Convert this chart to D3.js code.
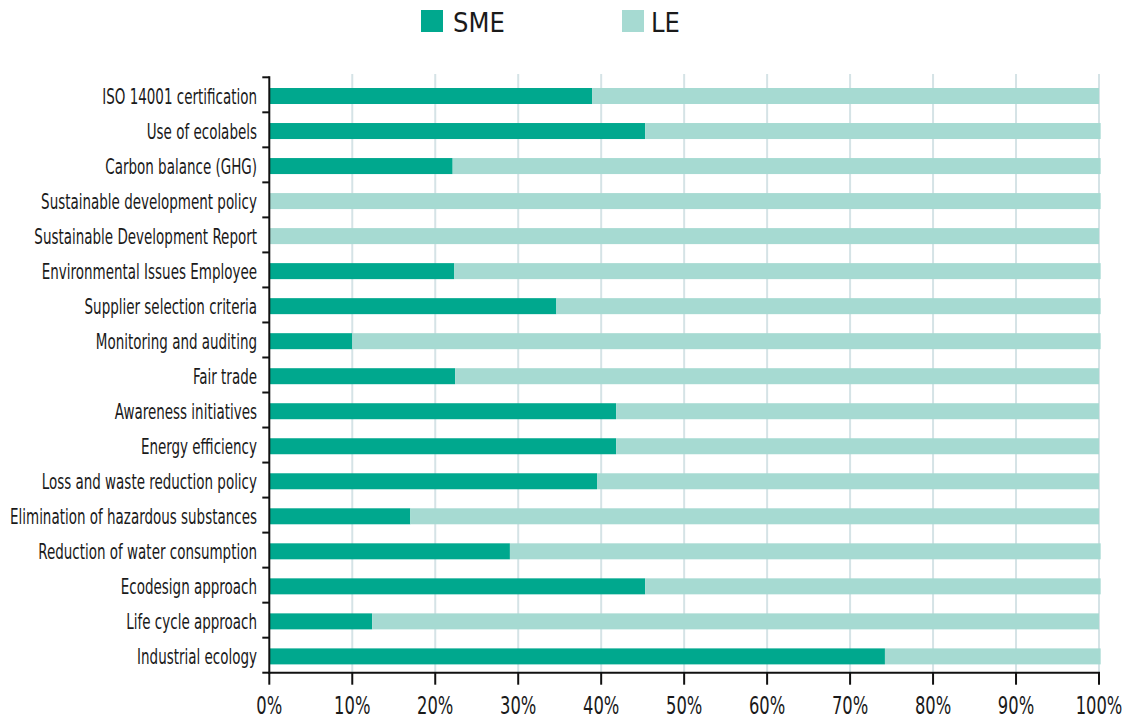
<!DOCTYPE html>
<html>
<head>
<meta charset="utf-8">
<script src="https://cdn.jsdelivr.net/npm/d3@7"></script>
<style>
  html, body { margin: 0; padding: 0; background: #fff; }
  svg { display: block; }
  text { font-family: "Liberation Sans Narrow", "DejaVu Sans Condensed", "Liberation Sans", sans-serif; fill: #1a1a1a; }
</style>
</head>
<body>
<svg id="chart" width="1127" height="719"></svg>
<script>
const categories = [
  "ISO 14001 certification",
  "Use of ecolabels",
  "Carbon balance (GHG)",
  "Sustainable development policy",
  "Sustainable Development Report",
  "Environmental Issues Employee",
  "Supplier selection criteria",
  "Monitoring and auditing",
  "Fair trade",
  "Awareness initiatives",
  "Energy efficiency",
  "Loss and waste reduction policy",
  "Elimination of hazardous substances",
  "Reduction of water consumption",
  "Ecodesign approach",
  "Life cycle approach",
  "Industrial ecology"
];
const smeValues = [38.9, 45.3, 22.1, 0, 0, 22.3, 34.6, 10.0, 22.4, 41.8, 41.8, 39.5, 17.0, 29.0, 45.3, 12.4, 74.2];
const leValues  = [61.1, 54.9, 78.1, 100.2, 100, 77.9, 65.6, 90.2, 77.6, 58.2, 58.2, 60.5, 83.0, 71.2, 54.9, 87.6, 26.0];
const seriesNames = ["SME", "LE"];
const xTicks = [0, 10, 20, 30, 40, 50, 60, 70, 80, 90, 100];
const colors = { SME: "#00a88e", LE: "#a6dad2" };

(function () {
const svg = d3.select("#chart");
const pLeft = 269.3, pRight = 1099, pTop = 77.3, pBottom = 672.7;

const x = d3.scaleLinear().domain([0, 100]).range([pLeft, pRight]);
const y = d3.scaleBand().domain(categories).range([pTop, pBottom]).paddingInner(0).paddingOuter(0);
const barH = 16;
const barOffset = (y.bandwidth() - barH) / 2 + 1.2;

const rows = categories.map((c, i) => ({ cat: c, SME: smeValues[i], LE: leValues[i] }));
const stack = d3.stack().keys(seriesNames)(rows);

// gridlines
svg.append("g").selectAll("line").data(xTicks.filter(d => d > 0)).join("line")
  .attr("x1", d => x(d)).attr("x2", d => x(d))
  .attr("y1", 74).attr("y2", pBottom)
  .attr("stroke", "#d5e3e6").attr("stroke-width", 2);

// bars
svg.append("g").selectAll("g").data(stack).join("g")
  .attr("fill", d => colors[d.key])
  .selectAll("rect").data(d => d).join("rect")
  .attr("x", d => x(d[0]))
  .attr("width", d => Math.max(0, x(d[1]) - x(d[0])))
  .attr("y", d => y(d.data.cat) + barOffset)
  .attr("height", barH);

// y axis
const yAxisG = svg.append("g");
yAxisG.append("line").attr("x1", pLeft).attr("x2", pLeft).attr("y1", pTop - 1).attr("y2", pBottom + 1)
  .attr("stroke", "#111").attr("stroke-width", 2);
const bounds = categories.map(c => y(c)).concat([y(categories[categories.length - 1]) + y.step()]);
yAxisG.selectAll("line.tick").data(bounds).join("line").attr("class", "tick")
  .attr("x1", pLeft - 7).attr("x2", pLeft).attr("y1", d => d).attr("y2", d => d)
  .attr("stroke", "#111").attr("stroke-width", 2);

const labelSize = 21;
const ylab = yAxisG.selectAll("text").data(categories).join("text")
  .attr("x", 257).attr("y", d => y(d) + barOffset + barH / 2 + labelSize * 0.36)
  .attr("text-anchor", "end").attr("font-size", labelSize)
  .text(d => d);
const refNode = ylab.filter(d => d === "Elimination of hazardous substances").node();
const yFactor = 247 / refNode.getComputedTextLength();
ylab.each(function () {
  const w = this.getComputedTextLength();
  d3.select(this).attr("textLength", w * yFactor).attr("lengthAdjust", "spacingAndGlyphs");
});

// x axis
const xAxisG = svg.append("g");
xAxisG.append("line").attr("x1", pLeft - 1).attr("x2", pRight + 1).attr("y1", pBottom).attr("y2", pBottom)
  .attr("stroke", "#111").attr("stroke-width", 2);
xAxisG.selectAll("line.tick").data(xTicks).join("line").attr("class", "tick")
  .attr("x1", d => x(d)).attr("x2", d => x(d)).attr("y1", pBottom).attr("y2", pBottom + 12)
  .attr("stroke", "#111").attr("stroke-width", 2);
const xlab = xAxisG.selectAll("text").data(xTicks).join("text")
  .attr("x", d => x(d)).attr("y", 714)
  .attr("text-anchor", "middle").attr("font-size", 24.5)
  .text(d => d + "%");
const ref100 = xlab.filter(d => d === 100).node();
const xFactor = 46.7 / ref100.getComputedTextLength();
xlab.each(function () {
  const w = this.getComputedTextLength();
  d3.select(this).attr("textLength", w * xFactor).attr("lengthAdjust", "spacingAndGlyphs");
});

// legend
const legendX = { SME: 421, LE: 622 };
const lg = svg.append("g").selectAll("g").data(seriesNames).join("g")
  .attr("transform", d => `translate(${legendX[d]},10)`);
lg.append("rect").attr("width", 22).attr("height", 22).attr("fill", d => colors[d]);
lg.append("text").attr("x", d => d === "SME" ? 32 : 29).attr("y", 21.7)
  .attr("font-size", 27).text(d => d);
})();
</script>
</body>
</html>
